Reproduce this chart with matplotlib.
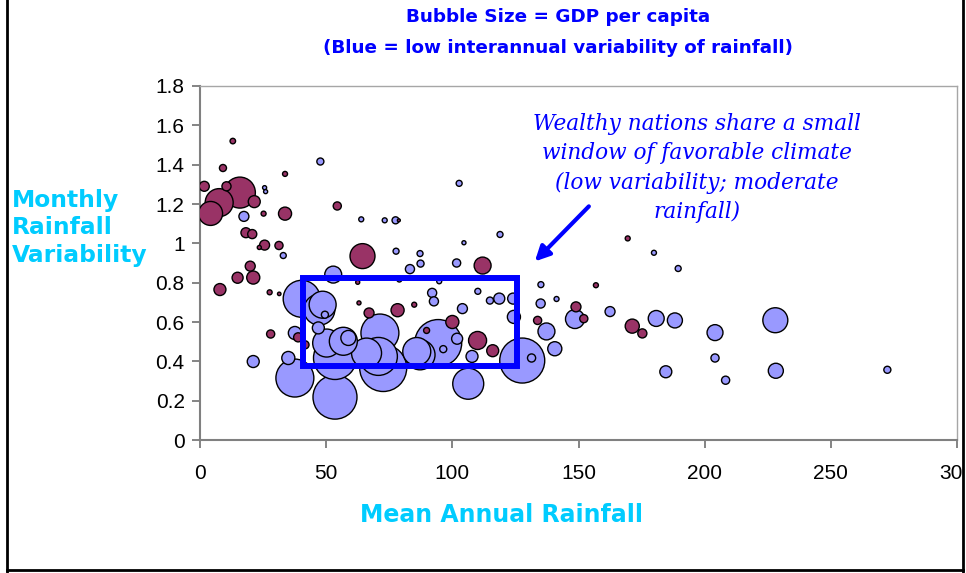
import matplotlib
matplotlib.use("Agg")
import matplotlib.pyplot as plt
from matplotlib.lines import Line2D
from matplotlib.patches import Rectangle

# ---------------- data ----------------
# Blue series: low interannual variability of rainfall
blue_rain = [47.7, 25.6, 26.0, 17.4, 63.9, 73.2, 77.5, 102.7, 33.0, 118.9,
             104.6, 77.7, 87.2, 87.4, 83.2, 101.7, 52.8, 79.0, 94.8, 40.3,
             47.3, 48.6, 49.5, 46.9, 37.6, 35.0, 37.6, 53.5, 53.5, 50.2,
             58.8, 71.3, 70.7, 72.6, 66.0, 85.9, 87.2, 94.4, 96.4, 101.9,
             104.0, 107.8, 106.3, 127.7, 131.4, 92.0, 92.7, 110.1, 114.9, 118.6,
             124.1, 124.4, 135.1, 135.0, 141.3, 148.6, 137.3, 140.6, 179.9, 189.5,
             162.5, 180.8, 188.2, 204.1, 228.0, 204.1, 184.6, 208.3, 228.2, 272.4,
             21.1, 56.8]
blue_var = [1.416, 1.283, 1.263, 1.137, 1.122, 1.117, 1.117, 1.305, 0.938, 1.045,
            1.003, 0.960, 0.948, 0.897, 0.869, 0.900, 0.841, 0.816, 0.807, 0.718,
            0.663, 0.688, 0.637, 0.570, 0.544, 0.417, 0.315, 0.417, 0.218, 0.493,
            0.519, 0.544, 0.425, 0.366, 0.442, 0.450, 0.433, 0.493, 0.462, 0.515,
            0.668, 0.425, 0.286, 0.404, 0.417, 0.748, 0.705, 0.756, 0.709, 0.719,
            0.719, 0.626, 0.790, 0.694, 0.717, 0.615, 0.552, 0.464, 0.952, 0.872,
            0.653, 0.618, 0.608, 0.546, 0.609, 0.417, 0.347, 0.304, 0.352, 0.357,
            0.399, 0.502]
blue_gdp = [0.9, 0.3, 0.3, 1.8, 0.45, 0.45, 0.9, 0.65, 0.65, 0.65,
            0.3, 0.65, 0.65, 0.9, 1.5, 1.2, 5.2, 0.45, 0.45, 24.8,
            17.4, 13.2, 0.9, 2.6, 3.1, 3.1, 26.1, 33.5, 35.1, 14.2,
            4.1, 26.1, 26.1, 40.0, 16.3, 14.2, 16.3, 40.0, 0.9, 2.2,
            1.8, 2.6, 17.4, 36.7, 1.2, 1.5, 1.5, 0.65, 0.9, 2.2,
            2.2, 3.1, 0.65, 1.5, 0.45, 6.5, 5.2, 3.6, 0.45, 0.65,
            1.8, 4.6, 4.1, 4.6, 11.3, 1.2, 2.6, 1.2, 4.1, 0.9,
            2.6, 14.2]

# Maroon series: high interannual variability of rainfall
maroon_rain = [13.0, 9.1, 33.7, 1.7, 10.5, 15.8, 7.6, 4.2, 21.5, 25.2,
               33.7, 54.4, 18.2, 20.7, 25.6, 23.5, 31.3, 64.4, 19.9, 14.9,
               21.1, 7.9, 27.6, 31.4, 62.5, 78.8, 112.0, 38.9, 41.6, 28.0,
               89.8, 100.0, 110.0, 116.0, 78.3, 67.0, 84.9, 63.0, 169.5, 156.9,
               149.0, 133.8, 152.1, 171.3, 175.3]
maroon_var = [1.520, 1.383, 1.353, 1.290, 1.290, 1.258, 1.207, 1.152, 1.212, 1.151,
              1.151, 1.190, 1.054, 1.047, 0.991, 0.979, 0.989, 0.935, 0.884, 0.825,
              0.826, 0.765, 0.751, 0.743, 0.802, 1.117, 0.887, 0.522, 0.484, 0.539,
              0.557, 0.600, 0.506, 0.454, 0.660, 0.646, 0.688, 0.697, 1.025, 0.787,
              0.677, 0.608, 0.617, 0.579, 0.542]
maroon_gdp = [0.55, 0.9, 0.45, 1.8, 1.5, 17.4, 14.2, 10.4, 2.6, 0.45,
              3.1, 1.2, 1.8, 1.5, 1.8, 0.3, 1.2, 11.3, 1.8, 2.2,
              3.1, 2.6, 0.45, 0.22, 0.3, 0.16, 5.2, 1.5, 1.2, 1.2,
              0.65, 3.1, 5.9, 2.6, 3.1, 1.8, 0.45, 0.3, 0.45, 0.45,
              1.8, 1.2, 1.2, 3.6, 1.5]

x_ticks = [0, 50, 100, 150, 200, 250, 300]
x_labels = ["0", "50", "100", "150", "200", "250", "300"]
y_ticks = [0, 0.2, 0.4, 0.6, 0.8, 1.0, 1.2, 1.4, 1.6, 1.8]
y_labels = ["0", "0.2", "0.4", "0.6", "0.8", "1", "1.2", "1.4", "1.6", "1.8"]

# highlighted window (rainfall range, variability range)
window_rain = [41, 125.5]
window_var = [0.375, 0.825]

title1 = "Bubble Size = GDP per capita"
title2 = "(Blue = low interannual variability of rainfall)"
ylabel = "Monthly\nRainfall\nVariability"
xlabel = "Mean Annual Rainfall"
note = ("Wealthy nations share a small\nwindow of favorable climate\n"
        "(low variability; moderate\nrainfall)")

# ---------------- style ----------------
BLUE_FILL = "#9999FF"
MAROON_FILL = "#993366"
SIZE_SCALE = 28.6
TXT_BLUE = "#0000FF"
CYAN = "#00CCFF"

fig = plt.figure(figsize=(9.66, 5.73), dpi=100)
fig.patch.set_facecolor("white")
ax = fig.add_axes([200 / 966, 1 - 440 / 573, 757 / 966, 354 / 573])

pts = [(x, y, g, BLUE_FILL) for x, y, g in zip(blue_rain, blue_var, blue_gdp)]
pts += [(x, y, g, MAROON_FILL) for x, y, g in zip(maroon_rain, maroon_var, maroon_gdp)]
pts.sort(key=lambda p: -p[2])
ax.scatter([p[0] for p in pts], [p[1] for p in pts],
           s=[p[2] * SIZE_SCALE for p in pts],
           c=[p[3] for p in pts], edgecolors="black", linewidths=1.0, zorder=3)

ax.add_patch(Rectangle((window_rain[0], window_var[0]),
                       window_rain[1] - window_rain[0], window_var[1] - window_var[0],
                       fill=False, edgecolor="#0000FF", linewidth=4.3, zorder=5))

ax.set_xlim(0, 300)
ax.set_ylim(0, 1.8)
ax.set_xticks(x_ticks)
ax.set_xticklabels(x_labels)
ax.set_yticks(y_ticks)
ax.set_yticklabels(y_labels)
for lab in ax.get_xticklabels() + ax.get_yticklabels():
    lab.set_fontfamily("Liberation Sans")
    lab.set_fontsize(15)
ax.tick_params(axis="both", direction="out", length=6, width=1.2, color="#707070")
ax.tick_params(axis="x", pad=11)
ax.tick_params(axis="y", pad=5)
for side in ("left", "bottom"):
    ax.spines[side].set_color("#808080")
    ax.spines[side].set_linewidth(1.5)
for side in ("top", "right"):
    ax.spines[side].set_color("#A6A6A6")
    ax.spines[side].set_linewidth(1.0)

ax.annotate("", xy=(132.7, 0.908), xytext=(154.1, 1.188),
            arrowprops=dict(arrowstyle="-|>", color="#0000FF", lw=3,
                            mutation_scale=22, shrinkA=0, shrinkB=0), zorder=6)

fig.text(558 / 966, 1 - 17 / 573, title1, ha="center", va="center",
         fontsize=13.2, fontweight="bold", color=TXT_BLUE, family="DejaVu Sans")
fig.text(558 / 966, 1 - 48 / 573, title2, ha="center", va="center",
         fontsize=13.2, fontweight="bold", color=TXT_BLUE, family="DejaVu Sans")
fig.text(12 / 966, 1 - 228 / 573, ylabel, ha="left", va="center",
         multialignment="left", fontsize=16.8, fontweight="bold", color=CYAN,
         family="DejaVu Sans", linespacing=1.27)
fig.text(501 / 966, 1 - 515 / 573, xlabel, ha="center", va="center",
         fontsize=17, fontweight="bold", color=CYAN, family="DejaVu Sans")
fig.text(697 / 966, 1 - 168 / 573, note, ha="center", va="center",
         multialignment="center", fontsize=15.6, style="italic",
         color=TXT_BLUE, family="DejaVu Serif", linespacing=1.42)

# outer frame, with the plot cut at the right edge
fig.add_artist(Rectangle((963.5 / 966, 0), 3 / 966, 1, transform=fig.transFigure,
                         facecolor="white", edgecolor="none", zorder=20))
for xs, ys in (([7 / 966, 7 / 966], [0, 1]),
               ([7 / 966, 963 / 966], [3 / 573, 3 / 573]),
               ([963 / 966, 963 / 966], [0, 1])):
    fig.add_artist(Line2D(xs, ys, transform=fig.transFigure, color="black",
                          linewidth=2.0, zorder=21))

fig.savefig("out.png", dpi=100)
